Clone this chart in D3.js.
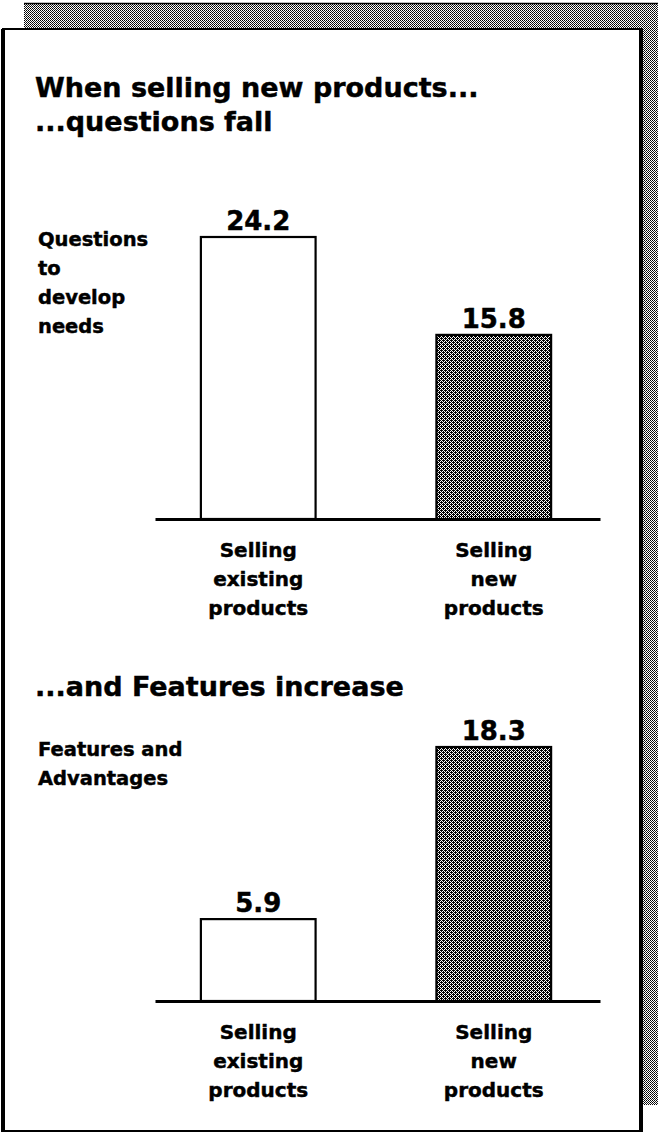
<!DOCTYPE html>
<html>
<head>
<meta charset="utf-8">
<script src="https://cdn.jsdelivr.net/npm/d3@7"></script>
<style>
  html, body { margin: 0; padding: 0; background: #fff; }
  svg { display: block; }
  text { font-family: "DejaVu Sans", "Liberation Sans", sans-serif; font-weight: bold; fill: #000;
         stroke: #000; stroke-width: 0.45px; }
</style>
</head>
<body>
<div id="chart"></div>
<script>
// Chart content
const categories = ["existing", "new"];
const categoryLines = [["Selling", "existing", "products"], ["Selling", "new", "products"]];
const questionValues = [24.2, 15.8];
const featureValues = [5.9, 18.3];
const titleLines = ["When selling new products...", "...questions fall"];
const questionLabel = ["Questions", "to", "develop", "needs"];
const featureTitle = "...and Features increase";
const featureLabel = ["Features and", "Advantages"];

const W = 658, H = 1134;
const svg = d3.select("#chart").append("svg").attr("width", W).attr("height", H);

// Dithered fills: a fine halftone for the new-product bars and the drop shadow
const defs = svg.append("defs");
const dither = defs.append("pattern").attr("id", "dither")
  .attr("patternUnits", "userSpaceOnUse").attr("width", 4).attr("height", 4);
dither.append("rect").attr("width", 4).attr("height", 4).attr("fill", "#fff");
[[0,0],[2,0],[1,1],[3,1],[0,2],[2,2],[1,3],[3,3],[3,0],[1,2]].forEach(([x, y]) =>
  dither.append("rect").attr("x", x).attr("y", y).attr("width", 1).attr("height", 1).attr("fill", "#000"));
const shade = defs.append("pattern").attr("id", "shade")
  .attr("patternUnits", "userSpaceOnUse").attr("width", 2).attr("height", 2);
shade.append("rect").attr("width", 2).attr("height", 2).attr("fill", "#fff");
shade.append("rect").attr("width", 1).attr("height", 1).attr("fill", "#000");
shade.append("rect").attr("x", 1).attr("y", 1).attr("width", 1).attr("height", 1).attr("fill", "#222");

// Drop shadow behind the card
svg.append("path")
  .attr("d", "M24,3 H658 V1105 H641 V29 H24 Z")
  .attr("fill", "url(#shade)").attr("shape-rendering", "crispEdges");
svg.append("line").attr("x1", 24).attr("x2", 658).attr("y1", 3.5).attr("y2", 3.5)
  .attr("stroke", "#000").attr("stroke-width", 1.5);

// Card
svg.append("rect").attr("x", 3).attr("y", 29).attr("width", 638).attr("height", 1102)
  .attr("fill", "#fff").attr("stroke", "#000").attr("stroke-width", 2);
svg.append("line").attr("x1", 3).attr("x2", 3).attr("y1", 29).attr("y2", 1132)
  .attr("stroke", "#000").attr("stroke-width", 4);
svg.append("line").attr("x1", 641).attr("x2", 641).attr("y1", 29).attr("y2", 1132)
  .attr("stroke", "#000").attr("stroke-width", 4);

// Shared horizontal scale
const x = d3.scaleBand().domain(categories).range([142, 610])
  .paddingInner(0.513).paddingOuter(0.25);

const LINE = 29;

function panel(g, values, yScale) {
  const axisY = yScale(0);
  const fills = ["#fff", "url(#dither)"];
  g.selectAll("rect.bar").data(values).join("rect").attr("class", "bar")
    .attr("x", (d, i) => x(categories[i]))
    .attr("width", x.bandwidth())
    .attr("y", d => yScale(d))
    .attr("height", d => yScale(0) - yScale(d))
    .attr("fill", (d, i) => fills[i])
    .attr("stroke", "#000").attr("stroke-width", 2.2);

  g.selectAll("text.value").data(values).join("text").attr("class", "value")
    .attr("x", (d, i) => x(categories[i]) + x.bandwidth() / 2)
    .attr("y", d => yScale(d) - 7)
    .attr("text-anchor", "middle").attr("font-size", 26)
    .text(d => d3.format(".1f")(d));

  // Baseline
  const axis = d3.axisBottom(d3.scaleLinear().range([155, 600])).ticks(0).tickSizeOuter(0);
  g.append("g").attr("transform", `translate(0,${axisY})`).call(axis)
    .call(s => s.select(".domain").attr("stroke", "#000").attr("stroke-width", 3.2));

  // Category labels
  categoryLines.forEach((lines, i) => {
    const cx = x(categories[i]) + x.bandwidth() / 2;
    const t = g.append("text").attr("x", cx).attr("y", axisY + 38)
      .attr("text-anchor", "middle").attr("font-size", 20);
    lines.forEach((ln, j) => t.append("tspan").attr("x", cx)
      .attr("dy", j === 0 ? 0 : LINE).text(ln));
  });
}

function multiline(g, lines, x0, y0, size, step) {
  const t = g.append("text").attr("x", x0).attr("y", y0).attr("font-size", size);
  lines.forEach((ln, j) => t.append("tspan").attr("x", x0).attr("dy", j === 0 ? 0 : step).text(ln));
}

// Panel 1: questions
const g1 = svg.append("g");
multiline(g1, titleLines, 35, 97, 27, 34);
const y1 = d3.scaleLinear().domain([0, 24.2]).range([519, 237]);
multiline(g1, questionLabel, 38, y1(24.2) + 9, 19.5, LINE);
panel(g1, questionValues, y1);

// Panel 2: features
const g2 = svg.append("g");
multiline(g2, [featureTitle], 35, 696, 27, 34);
const y2 = d3.scaleLinear().domain([0, 18.3]).range([1001, 747]);
multiline(g2, featureLabel, 38, y2(18.3) + 9, 19.5, LINE);
panel(g2, featureValues, y2);
</script>
</body>
</html>
